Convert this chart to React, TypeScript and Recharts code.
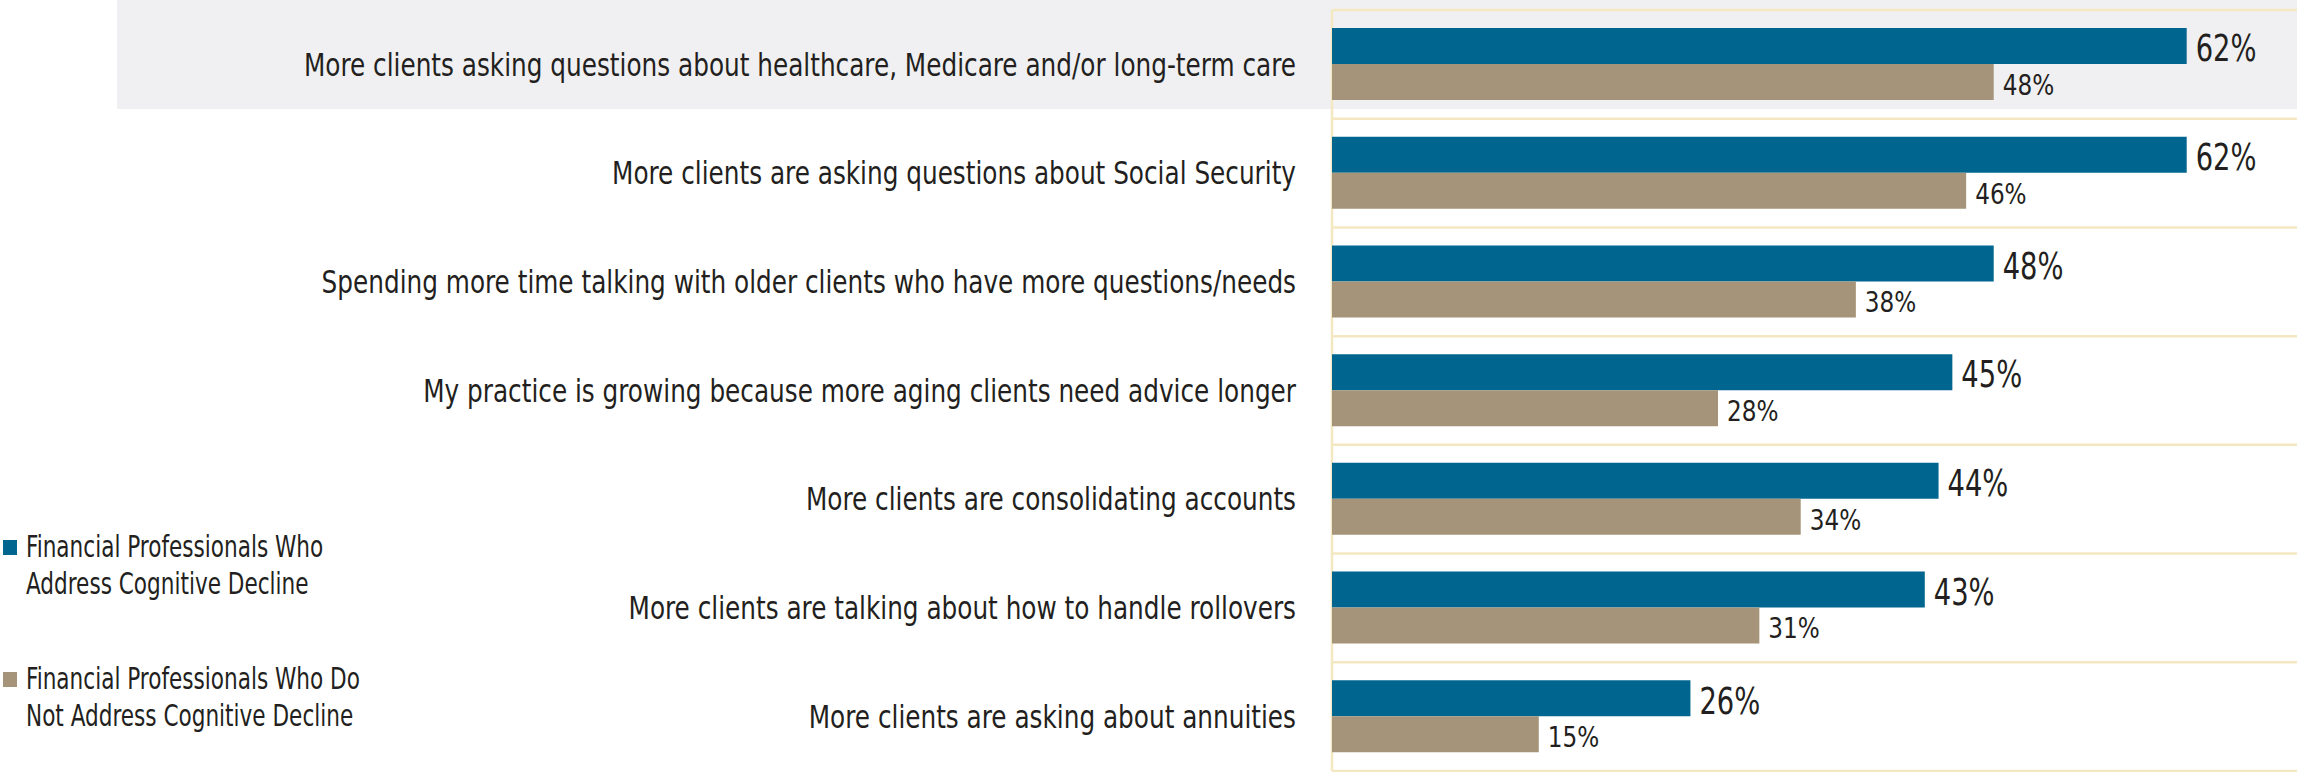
import React from "react"
import { Bar, BarChart, CartesianGrid, LabelList, XAxis, YAxis } from "recharts"

const categories = [
  "More clients asking questions about healthcare, Medicare and/or long-term care",
  "More clients are asking questions about Social Security ",
  "Spending more time talking with older clients who have more questions/needs",
  "My practice is growing because more aging clients need advice longer",
  "More clients are consolidating accounts",
  "More clients are talking about how to handle rollovers ",
  "More clients are asking about annuities",
]

const addressValues = [62, 62, 48, 45, 44, 43, 26]
const notAddressValues = [48, 46, 38, 28, 34, 31, 15]

const seriesNames = [
  "Financial Professionals Who Address Cognitive Decline",
  "Financial Professionals Who Do Not Address Cognitive Decline",
]
const legendLines = [
  ["Financial Professionals Who", "Address Cognitive Decline"],
  ["Financial Professionals Who Do", "Not Address Cognitive Decline"],
]

const data = categories.map((name, i) => ({
  name,
  address: addressValues[i],
  notAddress: notAddressValues[i],
}))

const BLUE = "#00668f"
const TAN = "#a59479"
const GRID = "#f4e8c2"
const TEXT = "#231f20"
const FONT = "'DejaVu Sans Condensed', 'DejaVu Sans', sans-serif"

// the original face is narrower than anything installed, so squeeze it a bit
const CategoryTick = (props: any) => {
  const { x, y, payload } = props
  return (
    <g transform={`translate(${x},${y}) scale(0.86,1)`}>
      <text
        x={0}
        y={0}
        textAnchor="end"
        dominantBaseline="central"
        fill={TEXT}
        fontSize={32}
        fontFamily={FONT}
      >
        {payload.value}
      </text>
    </g>
  )
}

const makeValueLabel = (size: number, squeeze: number, dy: number) => (props: any) => {
  const { x, y, width, height, value } = props
  return (
    <g transform={`translate(${x + width + 9},${y + height / 2 + dy}) scale(${squeeze},1)`}>
      <text x={0} y={0} dominantBaseline="central" fill={TEXT} fontSize={size} fontFamily={FONT}>
        {value}%
      </text>
    </g>
  )
}

export default function App() {
  const colors = [BLUE, TAN]
  return (
    <div style={{ position: "relative", width: 2297, height: 772, background: "#fff" }}>
      <style>{`body{margin:0}`}</style>
      {/* highlight behind first row */}
      <div
        style={{
          position: "absolute",
          left: 117,
          top: 0,
          width: 2180,
          height: 109,
          background: "#f0f0f2",
        }}
      />
      <div style={{ position: "absolute", left: 0, top: 0 }}>
        <BarChart
          width={2297}
          height={772}
          data={data}
          layout="vertical"
          margin={{ top: 10, right: 0, left: 0, bottom: 1 }}
          barSize={36}
          barGap={0}
        >
          <CartesianGrid
            stroke={GRID}
            strokeWidth={2.5}
            horizontalCoordinatesGenerator={({ offset }: any) =>
              Array.from({ length: data.length + 1 }, (_, i) => offset.top + (i * offset.height) / data.length)
            }
            verticalCoordinatesGenerator={({ offset }: any) => [offset.left]}
          />
          <XAxis type="number" domain={[0, 70]} hide />
          <YAxis
            type="category"
            dataKey="name"
            width={1332}
            axisLine={false}
            tickLine={false}
            tickMargin={30}
            tick={<CategoryTick />}
            interval={0}
          />
          <Bar dataKey="address" name={seriesNames[0]} fill={BLUE} isAnimationActive={false}>
            <LabelList dataKey="address" content={makeValueLabel(38, 0.8, 2)} />
          </Bar>
          <Bar dataKey="notAddress" name={seriesNames[1]} fill={TAN} isAnimationActive={false}>
            <LabelList dataKey="notAddress" content={makeValueLabel(28, 0.92, 3)} />
          </Bar>
        </BarChart>
      </div>
      {/* legend */}
      {legendLines.map((lines, i) => (
        <div
          key={i}
          style={{
            position: "absolute",
            left: 3,
            top: i === 0 ? 528 : 660,
            display: "flex",
            alignItems: "flex-start",
            fontFamily: FONT,
            color: TEXT,
          }}
        >
          <div style={{ width: 14, height: 15, background: colors[i], marginTop: 12, marginRight: 9, flex: "none" }} />
          <div
            style={{
              fontSize: 30,
              lineHeight: "37px",
              transform: "scaleX(0.8)",
              transformOrigin: "left top",
              whiteSpace: "nowrap",
            }}
          >
            {lines.map((l) => (
              <div key={l}>{l}</div>
            ))}
          </div>
        </div>
      ))}
    </div>
  )
}
